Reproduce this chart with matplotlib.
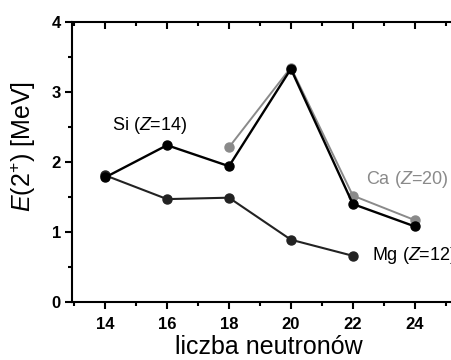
import matplotlib
matplotlib.use("Agg")
import matplotlib.pyplot as plt
from matplotlib.ticker import MultipleLocator

plt.rcParams['font.family'] = ['Liberation Sans', 'DejaVu Sans']
plt.rcParams['mathtext.fontset'] = 'custom'
plt.rcParams['mathtext.rm'] = 'Liberation Sans'
plt.rcParams['mathtext.it'] = 'Liberation Sans:italic'

# neutron numbers and first 2+ excitation energies (MeV)
n_si = [14, 16, 18, 20, 22, 24]
e_si = [1.78, 2.24, 1.94, 3.33, 1.40, 1.08]
n_ca = [18, 20, 22, 24]
e_ca = [2.21, 3.35, 1.52, 1.17]
n_mg = [14, 16, 18, 20, 22]
e_mg = [1.81, 1.47, 1.49, 0.89, 0.66]

xticks = [14, 16, 18, 20, 22, 24]
yticks = [0, 1, 2, 3, 4]

fig = plt.figure(figsize=(4.52, 3.6), dpi=100)
ax = fig.add_axes([72 / 452, 58 / 360, 383 / 452, 280 / 360])

ax.plot(n_ca, e_ca, '-o', color='#8a8a8a', lw=1.4, ms=6.5, zorder=2)
ax.plot(n_mg, e_mg, '-o', color='#222222', lw=1.5, ms=6.5, zorder=3)
ax.plot(n_si, e_si, '-o', color='black', lw=1.7, ms=6.5, zorder=4)

ax.set_xlim(12.93, 25.3)
ax.set_ylim(0, 4)
ax.set_xticks(xticks)
ax.set_yticks(yticks)
ax.xaxis.set_minor_locator(MultipleLocator(1))
ax.yaxis.set_minor_locator(MultipleLocator(0.5))

for s in ax.spines.values():
    s.set_linewidth(1.5)
ax.spines['right'].set_visible(False)

ax.tick_params(axis='both', which='major', direction='out', length=5, width=1.5,
               labelsize=12)
ax.tick_params(axis='both', which='minor', direction='out', length=3, width=1.5)
ax.tick_params(axis='x', which='both', top=True)
ax.tick_params(axis='x', which='major', pad=5.5)
ax.tick_params(axis='y', which='major', pad=3)
for lab in ax.get_xticklabels() + ax.get_yticklabels():
    lab.set_fontweight('bold')

# top ticks point inward
for t in ax.xaxis.get_major_ticks() + ax.xaxis.get_minor_ticks():
    t.tick2line.set_marker(3)

fig.text(112 / 452, 1 - 125 / 360, 'Si ($\\it{Z}$=14)', fontsize=13,
         color='black', ha='left', va='center')
fig.text(366 / 452, 1 - 179 / 360, 'Ca ($\\it{Z}$=20)', fontsize=13,
         color='#8a8a8a', ha='left', va='center')
fig.text(372 / 452, 1 - 255 / 360, 'Mg ($\\it{Z}$=12)', fontsize=13,
         color='black', ha='left', va='center')

fig.text(269 / 452, 1 - 347 / 360, 'liczba neutronów', fontsize=18,
         ha='center', va='center')
fig.text(23 / 452, 1 - 147 / 360, '$\\it{E}$(2$^{+}$) [MeV]', fontsize=18,
         ha='center', va='center', rotation=90)

fig.savefig('out.png', dpi=100)
